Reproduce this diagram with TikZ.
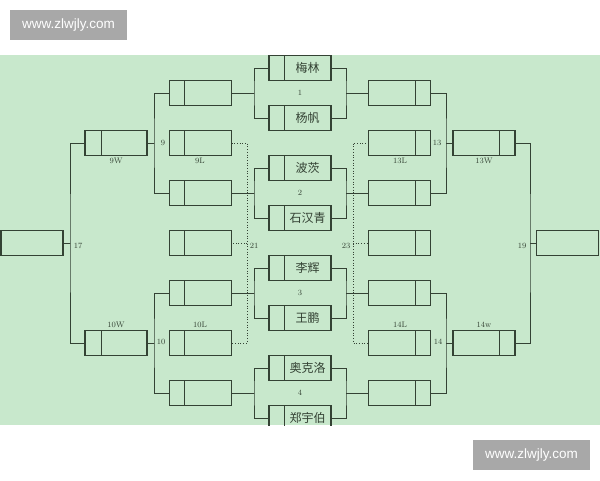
\documentclass[tikz,border=0pt]{standalone}
\usepackage{fontspec}
\newfontfamily\cjk{Noto Sans CJK SC}
\newfontfamily\webfont{Liberation Sans}
\definecolor{paper}{RGB}{200,232,204}
\definecolor{ink}{RGB}{52,66,52}
\definecolor{wmgray}{RGB}{168,168,168}

\begin{document}
\begin{tikzpicture}[x=1pt,y=-1pt,
		slot/.style={draw=ink,line width=1.1pt,minimum width=62pt,minimum height=25pt,inner sep=0pt,outer sep=0pt},
		wire/.style={draw=ink,line width=1pt},
		dotwire/.style={draw=ink,line width=.7pt,dotted},
		num/.style={font=\fontsize{8}{9}\selectfont,text=ink,inner sep=0pt},
		player/.style={font=\cjk\fontsize{12}{13}\selectfont,text=ink,inner sep=0pt},
		wmark/.style={fill=wmgray,text=white,font=\webfont\fontsize{13.5}{15}\selectfont,minimum width=117pt,minimum height=30pt,inner sep=0pt}]
		\useasboundingbox (0,0) rectangle (600,480);
		\fill[white] (0,0) rectangle (600,480);
		\fill[paper] (0,55) rectangle (600,425);

		\begin{scope}
		\clip (0,55) rectangle (600,425);
		% centre column, the eight players
		\foreach \i/\who in {1/梅林,2/杨帆,3/波茨,4/石汉青,5/李辉,6/王鹏,7/奥克洛,8/郑宇伯} {
			\node[slot] (c\i) at (300,{18+50*\i}) {};
			\draw[wire] ([xshift=15pt]c\i.north west) -- ([xshift=15pt]c\i.south west);
			\node[player] (p\i) at ([xshift=7.5pt]c\i.center) {\who};
		}
		% second columns
		\foreach \j in {1,...,7} {
			\node[slot] (l\j) at (200.5,{43+50*\j}) {};
			\draw[wire] ([xshift=15pt]l\j.north west) -- ([xshift=15pt]l\j.south west);
			\node[slot] (r\j) at (399.5,{43+50*\j}) {};
			\draw[wire] ([xshift=-15pt]r\j.north east) -- ([xshift=-15pt]r\j.south east);
		}
		% first columns and finals
		\node[slot] (w9) at (116,143) {};
		\node[slot] (w10) at (116,343) {};
		\node[slot] (w13) at (484,143) {};
		\node[slot] (w14) at (484,343) {};
		\draw[wire] ([xshift=16pt]w9.north west) -- ([xshift=16pt]w9.south west);
		\draw[wire] ([xshift=16pt]w10.north west) -- ([xshift=16pt]w10.south west);
		\draw[wire] ([xshift=-16pt]w13.north east) -- ([xshift=-16pt]w13.south east);
		\draw[wire] ([xshift=-16pt]w14.north east) -- ([xshift=-16pt]w14.south east);
		\node[slot] (f17) at (32,243) {};
		\node[slot] (f19) at (567.5,243) {};

		% brackets round the centre
		\foreach \k/\a/\b in {1/1/2,2/3/4,3/5/6,4/7/8} {
			\coordinate (jl\k) at (254,{-7+100*\k});
			\coordinate (jr\k) at (346,{-7+100*\k});
			\draw[wire] (c\a.west) -| (jl\k) |- (c\b.west) (jl\k) -- (l\a.east);
			\draw[wire] (c\a.east) -| (jr\k) |- (c\b.east) (jr\k) -- (r\a.west);
			\node[num] (g\k) at (300,{-7+100*\k}) {\k};
		}
		\coordinate (j9) at (154,143);
		\coordinate (j10) at (154,343);
		\coordinate (j13) at (446,143);
		\coordinate (j14) at (446,343);
		\coordinate (j17) at (70,243);
		\coordinate (j19) at (530,243);
		\coordinate (j21) at (247,243);
		\coordinate (j23) at (353,243);
		\draw[wire] (l1.west) -| (j9) |- (l3.west) (j9) -- (w9.east);
		\draw[wire] (l5.west) -| (j10) |- (l7.west) (j10) -- (w10.east);
		\draw[wire] (r1.east) -| (j13) |- (r3.east) (j13) -- (w13.west);
		\draw[wire] (r5.east) -| (j14) |- (r7.east) (j14) -- (w14.west);
		\draw[wire] (w9.west) -| (j17) |- (w10.west) (j17) -- (f17.east);
		\draw[wire] (w13.east) -| (j19) |- (w14.east) (j19) -- (f19.west);
		\draw[dotwire] (l2.east) -| (j21) |- (l6.east) (j21) -- (l4.east);
		\draw[dotwire] (r2.west) -| (j23) |- (r6.west) (j23) -- (r4.west);

		\node[num] (t9) at (163,143) {9};
		\node[num] (t10) at (161,342) {10};
		\node[num] (t13) at (437,143) {13};
		\node[num] (t14) at (438,342) {14};
		\node[num] (t17) at (78,246) {17};
		\node[num] (t19) at (522,246) {19};
		\node[num] (t21) at (254,246) {21};
		\node[num] (t23) at (346,246) {23};
		\node[num] (s9w) at (116,161) {9W};
		\node[num] (s9l) at (200,161) {9L};
		\node[num] (s13l) at (400,161) {13L};
		\node[num] (s13w) at (484,161) {13W};
		\node[num] (s10w) at (116,325) {10W};
		\node[num] (s10l) at (200,325) {10L};
		\node[num] (s14l) at (400,325) {14L};
		\node[num] (s14w) at (484,325) {14w};
		\end{scope}

		\node[wmark] (wm1) at (68.5,25) {www.zlwjly.com};
		\node[wmark] (wm2) at (531.5,455) {www.zlwjly.com};
	\end{tikzpicture}
\end{document}
